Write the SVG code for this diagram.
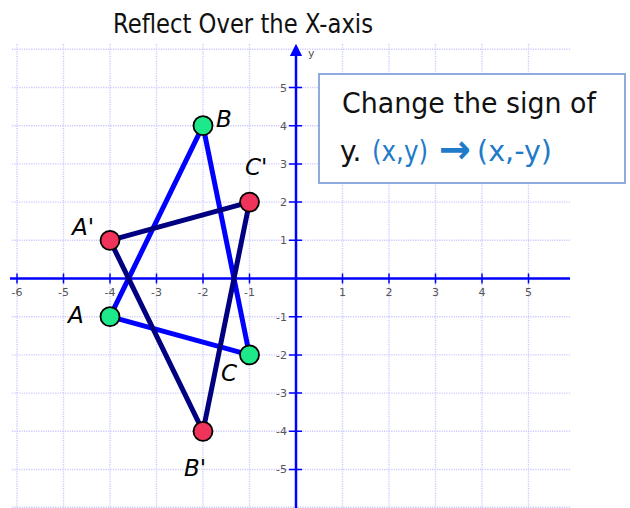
<svg xmlns="http://www.w3.org/2000/svg" width="630" height="508" viewBox="0 0 630 508">
  <style>
    .grid { stroke: #cacaff; stroke-width: 1.4; stroke-dasharray: 1.2 1.2; fill: none; }
    .axis { stroke: #0000ff; stroke-width: 2.5; fill: none; }
    .tick { stroke: #0000ff; stroke-width: 1.5; }
    .tl { font-family: "DejaVu Sans", sans-serif; font-size: 11px; fill: #555; }
    .orig { stroke: #0000ff; stroke-width: 5; stroke-linecap: round; fill: none; }
    .refl { stroke: #000080; stroke-width: 5; stroke-linecap: round; fill: none; }
    .ptg { fill: #1ee98a; stroke: #000; stroke-width: 1.8; }
    .ptr { fill: #f0335a; stroke: #000; stroke-width: 1.8; }
    .lbl { font-family: "DejaVu Sans", sans-serif; font-style: italic; font-size: 23px; fill: #000; }
    .hand { font-family: "DejaVu Sans", sans-serif; fill: #111; }
  </style>
  <defs>
    <marker id="arr" viewBox="0 0 10 10" refX="5" refY="5" markerWidth="5" markerHeight="5" orient="auto">
      <path d="M0,0 L10,5 L0,10 z" fill="#0000ff"/>
    </marker>
  </defs>
  <rect width="630" height="508" fill="#fff"/>

  <text x="113" y="33" class="hand" font-size="26" textLength="260" lengthAdjust="spacingAndGlyphs">Reflect Over the X-axis</text>

  <!-- grid -->
  <g id="grid" class="grid">
    <path d="M17,44V508 M63.5,44V508 M110,44V508 M156.5,44V508 M203,44V508 M249.5,44V508 M342.5,44V508 M389,44V508 M435.5,44V508 M482,44V508 M528.5,44V508"/>
    <path d="M12,49.3H570 M12,87.5H570 M12,125.7H570 M12,163.9H570 M12,202.1H570 M12,240.3H570 M12,316.7H570 M12,354.9H570 M12,393.1H570 M12,431.3H570 M12,469.5H570 M12,507.2H570"/>
  </g>

  <!-- axes -->
  <g id="axes">
    <line class="axis" x1="10" y1="278.5" x2="570" y2="278.5"/>
    <line class="axis" x1="296" y1="508" x2="296" y2="50" marker-end="url(#arr)"/>
    <path class="tick" d="M17,273.5v10 M63.5,273.5v10 M110,273.5v10 M156.5,273.5v10 M203,273.5v10 M249.5,273.5v10 M342.5,273.5v10 M389,273.5v10 M435.5,273.5v10 M482,273.5v10 M528.5,273.5v10"/>
    <path class="tick" d="M289,87.5h13 M289,125.7h13 M289,163.9h13 M289,202.1h13 M289,240.3h13 M289,316.7h13 M289,354.9h13 M289,393.1h13 M289,431.3h13 M289,469.5h13"/>
    <g class="tl" text-anchor="middle">
      <text x="17" y="296">-6</text>
      <text x="63.5" y="296">-5</text>
      <text x="110" y="296">-4</text>
      <text x="156.5" y="296">-3</text>
      <text x="203" y="296">-2</text>
      <text x="249.5" y="296">-1</text>
      <text x="342.5" y="296">1</text>
      <text x="389" y="296">2</text>
      <text x="435.5" y="296">3</text>
      <text x="482" y="296">4</text>
      <text x="528.5" y="296">5</text>
    </g>
    <g class="tl" text-anchor="end">
      <text x="287" y="92">5</text>
      <text x="287" y="130">4</text>
      <text x="287" y="168">3</text>
      <text x="287" y="206">2</text>
      <text x="287" y="244">1</text>
      <text x="287" y="321">-1</text>
      <text x="287" y="359">-2</text>
      <text x="287" y="397">-3</text>
      <text x="287" y="435">-4</text>
      <text x="287" y="473">-5</text>
    </g>
    <text class="tl" x="308" y="57" font-size="13">y</text>
  </g>

  <!-- connectors -->
  <g id="connectors">
    <line class="orig" x1="110" y1="316.7" x2="203" y2="125.7"/>
    <line class="orig" x1="203" y1="125.7" x2="249.5" y2="354.9"/>
    <line class="orig" x1="249.5" y1="354.9" x2="110" y2="316.7"/>
    <line class="refl" x1="110" y1="240.3" x2="249.5" y2="202.1"/>
    <line class="refl" x1="110" y1="240.3" x2="203" y2="431.3"/>
    <line class="refl" x1="203" y1="431.3" x2="249.5" y2="202.1"/>
  </g>

  <!-- nodes -->
  <g id="node-A"><circle class="ptg" cx="110" cy="316.7" r="9.5"/><text class="lbl" x="68" y="323">A</text></g>
  <g id="node-B"><circle class="ptg" cx="203" cy="125.7" r="9.5"/><text class="lbl" x="216" y="127">B</text></g>
  <g id="node-C"><circle class="ptg" cx="249.5" cy="354.9" r="9.5"/><text class="lbl" x="221" y="381">C</text></g>
  <g id="node-A1"><circle class="ptr" cx="110" cy="240.3" r="9.5"/><text class="lbl" x="72" y="235">A'</text></g>
  <g id="node-B1"><circle class="ptr" cx="203" cy="431.3" r="9.5"/><text class="lbl" x="184" y="476">B'</text></g>
  <g id="node-C1"><circle class="ptr" cx="249.5" cy="202.1" r="9.5"/><text class="lbl" x="245" y="175">C'</text></g>

  <!-- note box -->
  <g id="note">
    <rect x="319" y="74" width="306" height="109" fill="#fff" stroke="#8faadc" stroke-width="2"/>
    <text class="hand" x="342" y="113" font-size="28" textLength="254" lengthAdjust="spacingAndGlyphs">Change the sign of</text>
    <text class="hand" font-size="28" y="161">
      <tspan x="340">y.</tspan>
      <tspan x="372" fill="#1f7bc9" textLength="56" lengthAdjust="spacingAndGlyphs">(x,y)</tspan>
      <tspan x="439" y="163" fill="#1f7bc9" font-weight="bold" font-size="40" textLength="32" lengthAdjust="spacingAndGlyphs">→</tspan>
      <tspan x="477" y="161" fill="#1f7bc9" textLength="75" lengthAdjust="spacingAndGlyphs">(x,-y)</tspan>
    </text>
  </g>
</svg>
